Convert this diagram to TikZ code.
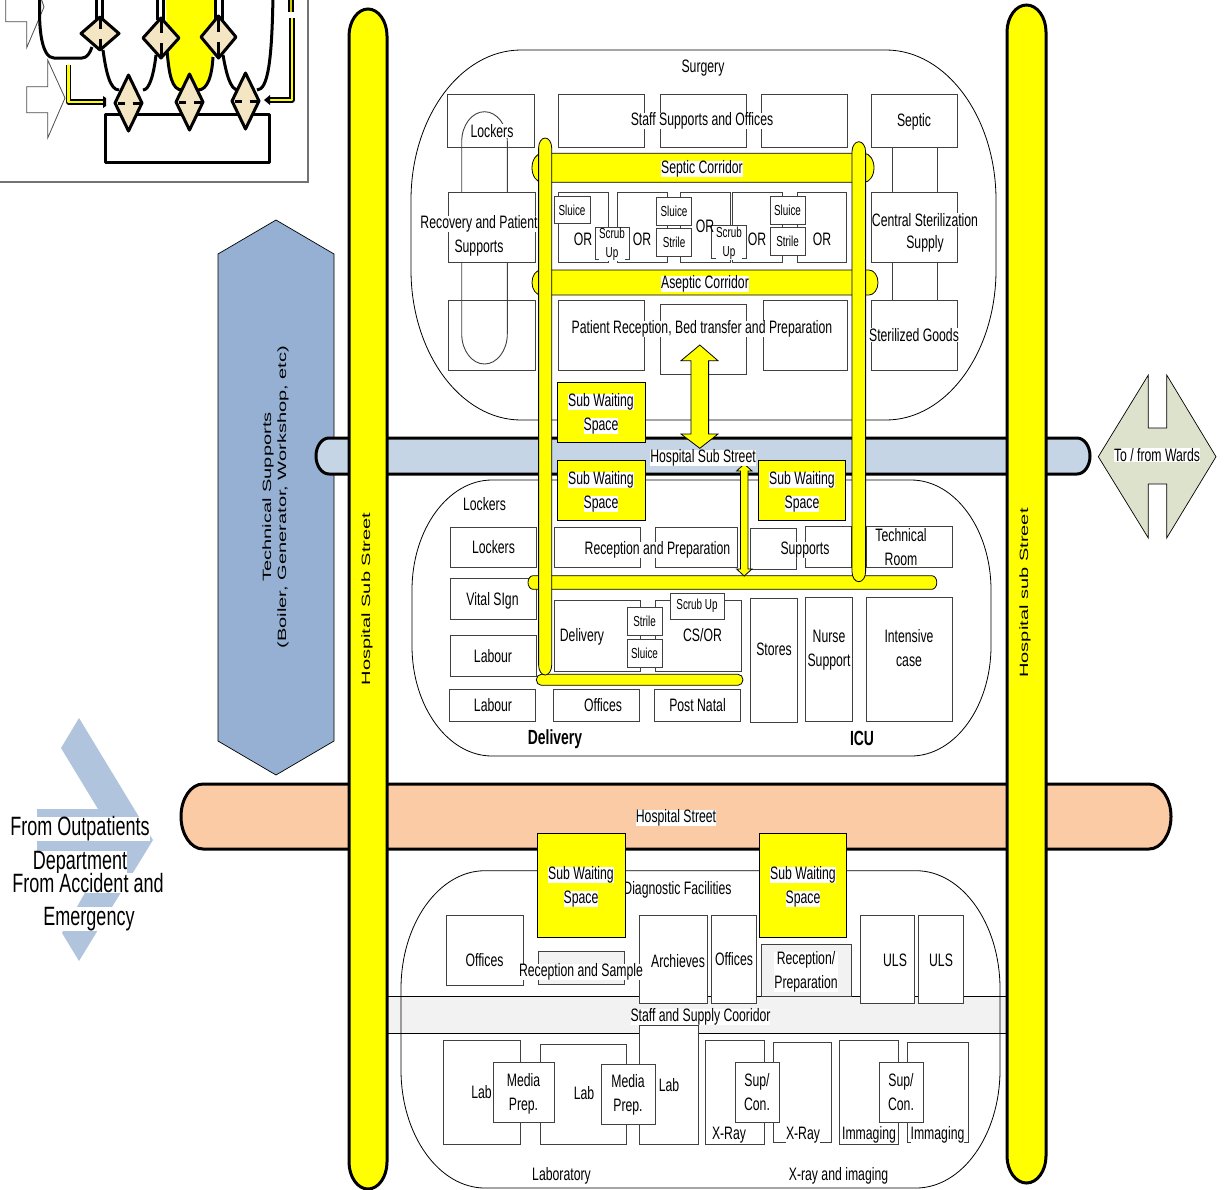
\documentclass[tikz,border=0pt]{standalone}
\usepackage{fontspec}
\setmainfont{Liberation Sans}
\newfontfamily\narrowfont[FakeStretch=0.68]{Liberation Sans}
\newfontfamily\tallfont[FakeStretch=1.67]{Liberation Sans}
\definecolor{passage}{HTML}{FFFF00}
\definecolor{subway}{HTML}{C6D5E6}
\definecolor{mainway}{HTML}{FBCBA6}
\definecolor{plant}{HTML}{95B0D2}
\definecolor{entry}{HTML}{B0C4DE}
\definecolor{wards}{HTML}{DDE2CC}
\definecolor{valve}{HTML}{F5E6C3}
\definecolor{pale}{HTML}{F2F2F2}
\newcommand{\capsule}[7][]{\draw[#1] (#2,#3+#7) .. controls (#2,#3+.45*#7) and (#2+.45*#6,#3) .. (#2+#6,#3) -- (#4-#6,#3) .. controls (#4-.45*#6,#3) and (#4,#3+.45*#7) .. (#4,#3+#7) -- (#4,#5-#7) .. controls (#4,#5-.45*#7) and (#4-.45*#6,#5) .. (#4-#6,#5) -- (#2+#6,#5) .. controls (#2+.45*#6,#5) and (#2,#5-.45*#7) .. (#2,#5-#7) -- cycle;}

\begin{document}
\begin{tikzpicture}[x=1pt,y=-1pt,
   room/.style={draw=black!75,fill=white,line width=0.9pt},
   zone/.style={draw=black,line width=0.8pt},
   street/.style={draw=black,line width=3pt},
   corridor/.style={draw=black,fill=passage,line width=0.8pt},
   wait/.style={draw=black,fill=passage,line width=0.9pt},
   tag/.style={fill=white,inner sep=0pt,align=center,font=\narrowfont\fontsize{18}{24}\selectfont},
   smalltag/.style={tag,font=\narrowfont\fontsize{14.5}{19}\selectfont},
   bigtag/.style={tag,font=\narrowfont\fontsize{26.5}{35}\selectfont},
   headtag/.style={tag,fill=none,font=\narrowfont\bfseries\fontsize{20.5}{24}\selectfont},
   sidetag/.style={rotate=90,inner sep=0pt,align=center,font=\tallfont\fontsize{12}{15}\selectfont},
   ink/.style={draw=black,line width=3pt,line join=round},
   valvebox/.style={ink,fill=valve},
   feed/.style={line width=1.4pt,double=passage,double distance=2.6pt,line join=round}]

  \useasboundingbox (0,0) rectangle (1225,1189);

  % recuadro del esquema pequeno
  \draw[black!55,line width=1.3pt] (0,182) -- (308,182) -- (308,-5);
  \draw[black!70,line width=0.8pt] (5.7,-5) -- (5.7,21.7) -- (26.7,21.7) -- (26.7,47.7) -- (44,7) -- (40,-5);
  \draw[black!70,line width=0.8pt] (26.7,86.7) -- (47.7,86.7) -- (47.7,60) -- (65,98) -- (47.7,138) -- (47.7,112.7) -- (26.7,112.7) -- cycle;
  \fill[passage] (166,-5) -- (167,53) .. controls (169,75) and (172,90) .. (182,90) -- (198,90) .. controls (208,90) and (212,75) .. (213,57) -- (214,-5) -- cycle;
  \draw[ink] (40,-5) .. controls (38,30) and (42,58) .. (54,58) -- (82,58) .. controls (87,58) and (90,53) .. (92,47);
  \draw[ink] (103,50) .. controls (106,72) and (110,90) .. (119,90);
  \draw[ink] (143,90) .. controls (150,90) and (154,72) .. (156,55);
  \draw[ink] (167,50) .. controls (169,75) and (172,90) .. (182,90);
  \draw[ink] (198,90) .. controls (208,90) and (212,75) .. (213,57);
  \draw[ink] (223,55) .. controls (226,72) and (230,90) .. (238,90);
  \draw[ink] (257,90) .. controls (268,90) and (272,60) .. (273,-5);
  \foreach \x in {96.5,102.5,157.7,163.5,215,222.7}
    \draw[ink] (\x,-5) -- (\x,20);
  \draw[ink] (105,114) rectangle (269,162);
  \foreach \cx/\cy/\w/\h in {100/33.5/19/16.5,161/38/18/20,218.5/37/17.5/21} {
    \draw[valvebox] (\cx-\w,\cy) -- (\cx,\cy-\h) -- (\cx+\w,\cy) -- (\cx,\cy+\h) -- cycle;
    \draw[ink] (\cx,\cy-\h+2) -- (\cx,\cy-5) (\cx,\cy+5) -- (\cx,\cy+\h-2);
  }
  \foreach \cx/\cy in {128.5/103,189.5/102,245.5/101} {
    \draw[valvebox] (\cx-13.5,\cy) -- (\cx,\cy-28) -- (\cx+13.5,\cy) -- (\cx,\cy+28) -- cycle;
    \draw[ink] (\cx-11,\cy) -- (\cx-4,\cy) (\cx+4,\cy) -- (\cx+11,\cy);
  }
  \draw[feed] (68.5,65) -- (68.5,102) -- (103,102);
  \fill[black] (103,96) -- (106,98) -- (106,106) -- (103,108) -- cycle;
  \draw[feed] (292,18) -- (292,100) -- (269,100);
  \fill[black] (264,100) -- (270,95) -- (270,105) -- cycle;
  \draw[black,line width=1.4pt,double=passage!80!black,double distance=2.6pt] (291,-5) -- (291,12);

  % llegadas por la izquierda y por la derecha
  \fill[entry] (79,718) -- (61,748) -- (98,809) -- (37,809) -- (37,870) -- (98,870) -- (62,933) -- (79,961) -- (153,840) -- cycle;
  \draw[black,fill=plant,line width=0.7pt] (276,220) -- (334,254) -- (334,741) -- (276,775) -- (218,741) -- (218,254) -- cycle;
  \node[sidetag] (plantlabel) at (275.5,497) {Technical Supports\\(Boiler, Generator, Workshop, etc)};
  \draw[black,fill=wards,line width=0.7pt] (1148.3,375) -- (1098.3,456.7) -- (1148.3,538) -- (1148.3,484) -- (1166.7,484) -- (1166.7,538) -- (1216,456.7) -- (1166.7,375) -- (1166.7,428) -- (1148.3,428) -- cycle;
  \node[tag] (wardslabel) at (1157,455) {To / from Wards};
  \node[bigtag] (outpatients) at (80,829) {From Outpatients};
  \node[bigtag] (department) at (80,863) {Department};
  \node[bigtag] (accident) at (88,883) {From Accident and};
  \node[bigtag] (emergency) at (89,919) {Emergency};

  % calles
  \capsule[street,fill=mainway]{181}{784}{1171}{849}{22}{32.5}
  \capsule[street,fill=subway]{316}{438}{1090}{474}{13}{18}
  \draw[black,fill=pale,line width=0.8pt] (387,996.7) rectangle (1007,1033);
  \capsule[street,fill=passage]{349}{9}{387}{1189}{19}{27}
  \capsule[street,fill=passage]{1007}{5}{1046}{1183}{19.5}{27}
  \node[sidetag] (subleft) at (367,599) {Hospital Sub Street};
  \node[sidetag] (subright) at (1025,593) {Hospital sub Street};
  \node[tag] (mainlabel) at (676,818) {Hospital Street};

  % --- Surgery ---
  \capsule[zone]{411}{50}{996}{420}{110}{150}
  \foreach \a/\b/\c/\d in {447.5/94/534/147,448/300.3/535/370.7}
    \draw[room] (\a,\b) rectangle (\c,\d);
  \capsule[draw=black!75,line width=0.9pt]{461.7}{111.7}{507.3}{364}{22.8}{30}
  \foreach \x in {892,937}
    \draw[black!75,line width=0.9pt] (\x,147) -- (\x,300);
  \foreach \a/\b/\c/\d in {558.5/94/644.7/147,660/94/746/147,761/94/847/147,871/94/957.5/147,
      448/192/535/262,871/192/957.5/262,558.5/192/608.3/262,617/192/667/262,680/192/730/262,
      732/192/782/262,797.4/192/846.5/262,558.5/300/644.7/370.7,660.4/304/746/374,
      763.4/300/847/370.7,871/300/957.5/370.7,595/227/629.4/259.7,711.7/225.7/746/258.3,
      554.7/196/590/223.7,656.5/197.7/691.8/225.7,656.5/228.7/691.8/256.7,
      770/196.3/805.5/224,770/227.3/805.5/255.3}
    \draw[room] (\a,\b) rectangle (\c,\d);
  \capsule[corridor]{532}{153.3}{874}{182.3}{10}{14.5}
  \capsule[corridor]{532}{270}{878}{295}{9}{12.5}

  % --- Delivery / ICU ---
  \capsule[zone]{412}{480}{991}{756}{80}{110}
  \foreach \a/\b/\c/\d in {450.6/527.3/536.3/567.3,554.3/527.3/640.9/567.3,655.8/527.3/737/567.3,
      750.3/528.3/796.3/569,805.5/526.7/851/567.3,866.4/526.7/952.5/567.3,450.6/578.3/536.3/619.3,
      450.6/635.3/536.3/676.7,449.4/689.3/535.6/721,553.6/689.3/639.7/721,654.6/689.3/740.8/721,
      554.3/600.3/640.9/671,655.4/600.3/741.5/671,627.5/607.3/662.7/635.3,627.5/639.3/662.7/667.3,
      670.7/593.3/724/619.3,750.7/598.3/797.4/722.7,805.5/597/852.6/721,866.4/597/952.5/721}
    \draw[room] (\a,\b) rectangle (\c,\d);
  \capsule[corridor]{528}{575.7}{936.8}{589.3}{5}{6.8}
  \capsule[corridor]{536.3}{674.3}{743}{685.3}{5}{5.5}

  % pasillos verticales y flechas
  \capsule[corridor]{538.6}{138}{551.7}{675}{6.5}{10}
  \capsule[corridor]{852}{141.7}{865.6}{581.7}{6.8}{10}
  \foreach \a/\b/\c/\d in {557.8/382.3/645.8/442.7,557.8/460/645.8/520.3,758/460/845.7/520.3}
    \draw[wait] (\a,\b) rectangle (\c,\d);
  \draw[corridor] (699.8,345) -- (718,360.7) -- (708.6,360.7) -- (708.6,434) -- (718,434) -- (699.8,448.3) -- (681,434) -- (691,434) -- (691,360.7) -- (681,360.7) -- cycle;
  \draw[corridor] (744.2,464) -- (752,471) -- (748,471) -- (748,569) -- (752,569) -- (744.2,576) -- (736.6,569) -- (740.4,569) -- (740.4,471) -- (736.6,471) -- cycle;

  % --- Diagnostic ---
  \capsule[zone]{401}{870.7}{1000}{1188}{84}{118}
  \node[tag] (diagnostic) at (677.5,890) {Diagnostic Facilities};
  \foreach \a/\b/\c/\d in {537.5/833.3/625.4/937.3,759.2/833.3/846.8/937.3}
    \draw[wait] (\a,\b) rectangle (\c,\d);
  \foreach \a/\b/\c/\d in {446/915/523.4/985.3,639.5/915/707/1003.7,711.8/915/756.8/1003.7,
      860.5/915/914.3/1003.7,918.3/915/963.7/1003.7,443.4/1040.3/520.6/1144.3,540.7/1044/626.6/1144.3,
      639.5/1025.7/698.6/1144.3,705.8/1040.3/764.4/1144.3,773.3/1042.3/831.5/1142.7,
      839.6/1040.3/898.2/1144.3,907.5/1042.3/968.5/1142.7,493.3/1062.3/554.3/1122.3,
      601.3/1064.3/655.6/1124.3,735/1062.3/779.3/1122.3,879.4/1062.3/923.5/1122.3}
    \draw[room] (\a,\b) rectangle (\c,\d);
  \foreach \a/\b/\c/\d in {538.3/951.3/624.6/984.3,761.2/944.3/851.2/996.7}
    \draw[room,fill=pale] (\a,\b) rectangle (\c,\d);

  % rotulos: Surgery
  \node[tag,fill=none] (surgery) at (703,68) {Surgery};
  \node[tag] (lockersa) at (492,131) {Lockers};
  \node[tag] (staff) at (702,121) {Staff Supports and Offices};
  \node[tag] (septic) at (914,122) {Septic};
  \node[tag] (septiccor) at (702,169) {Septic Corridor};
  \node[tag] (recoverya) at (479,224) {Recovery and Patient};
  \node[tag] (recoveryb) at (479,248) {Supports};
  \node[tag] (centrala) at (925,220) {Central Sterilization};
  \node[tag] (centralb) at (925,244) {Supply};
  \node[tag] (asepticcor) at (705,284) {Aseptic Corridor};
  \node[tag] (reception) at (702,329) {Patient Reception, Bed transfer and Preparation};
  \node[tag] (sterilized) at (914,335) {Sterilized Goods};
  \foreach \n/\x/\y in {ora/583/239,orb/642/239,orc/705/226,ord/757/239,ore/822/239}
    \node[tag,fill=none] (\n) at (\x,\y) {OR};
  \foreach \n/\x/\y in {sluicea/572/210,sluiceb/674/211,sluicec/787.5/210,sluiced/644.5/653}
    \node[smalltag] (\n) at (\x,\y) {Sluice};
  \foreach \n/\x/\y in {strilea/674/242,strileb/787.5/241,strilec/644.5/621}
    \node[smalltag] (\n) at (\x,\y) {Strile};
  \node[smalltag] (scruba) at (612,244.5) {Scrub\\Up};
  \node[smalltag] (scrubb) at (729,243.5) {Scrub\\Up};
  \node[smalltag] (scrubc) at (697,606) {Scrub Up};

  % rotulos: Sub Waiting Space, una linea cada vez
  \foreach \n/\x/\y in {wa/601/402,wb/601/480,wc/802/480,wd/581/875,we/803/875} {
    \node[tag] (\n top) at (\x,\y) {Sub Waiting};
    \node[tag] (\n low) at (\x,\y+24) {Space};
  }
  \node[tag] (substreet) at (703,458) {Hospital Sub Street};

  % rotulos: Delivery / ICU
  \node[tag,fill=none] (lockersb) at (484.5,504) {Lockers};
  \node[tag] (lockersc) at (493.5,547) {Lockers};
  \node[tag] (recdel) at (657.5,550) {Reception and Preparation};
  \node[tag] (supports) at (805,550) {Supports};
  \node[tag] (techroom) at (901,547) {Technical\\Room};
  \node[tag] (vital) at (492.5,601) {Vital SIgn};
  \node[tag] (laboura) at (493,656) {Labour};
  \node[tag] (labourb) at (493,705) {Labour};
  \node[tag] (officesa) at (603,705) {Offices};
  \node[tag] (postnatal) at (697.5,705) {Post Natal};
  \node[tag] (delivery) at (582,637) {Delivery};
  \node[tag] (csor) at (702.5,635) {CS/OR};
  \node[tag] (stores) at (774,649) {Stores};
  \node[tag] (nurse) at (829,650) {Nurse\\Support};
  \node[tag] (intensive) at (909,648) {Intensive\\case};
  \node[headtag] (deliveryhead) at (555,739) {Delivery};
  \node[headtag] (icuhead) at (862,738) {ICU};

  % rotulos: Diagnostic
  \node[tag] (officesb) at (484.5,960) {Offices};
  \node[tag] (recsample) at (581,972) {Reception and Sample};
  \node[tag] (archieves) at (678,961) {Archieves};
  \node[tag] (officesc) at (734,959) {Offices};
  \node[tag] (recprep) at (806,972) {Reception/\\Preparation};
  \node[tag] (ulsa) at (895,960) {ULS};
  \node[tag] (ulsb) at (941,960) {ULS};
  \node[tag] (staffcor) at (700.5,1017) {Staff and Supply Cooridor};
  \node[tag] (laba) at (481.5,1092) {Lab};
  \node[tag] (labb) at (584,1093) {Lab};
  \node[tag] (labc) at (669,1085) {Lab};
  \node[tag] (mediaa) at (523.5,1094) {Media\\Prep.};
  \node[tag] (mediab) at (628,1095) {Media\\Prep.};
  \node[tag] (supa) at (757,1092) {Sup/\\Con.};
  \node[tag] (supb) at (901,1092) {Sup/\\Con.};
  \node[tag] (xraya) at (729,1135) {X-Ray};
  \node[tag] (xrayb) at (803,1135) {X-Ray};
  \node[tag] (imaginga) at (869,1135) {Immaging};
  \node[tag] (imagingb) at (937.5,1135) {Immaging};
  \node[tag,fill=none] (laboratory) at (561.5,1176) {Laboratory};
  \node[tag,fill=none] (xrayhead) at (838.5,1176) {X-ray and imaging};
\end{tikzpicture}
\end{document}
